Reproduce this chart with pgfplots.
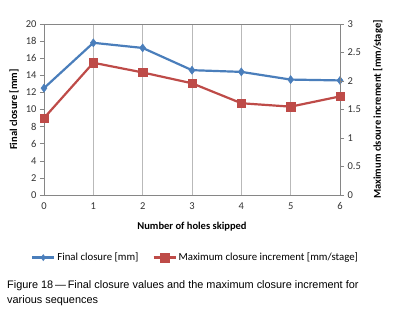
\documentclass[border=0pt]{standalone}
\usepackage{pgfplots}
\pgfplotsset{compat=1.18}
\usepackage{fontspec}
\setmainfont{Carlito}
\newfontfamily\arialfont{Liberation Sans}
\definecolor{serA}{HTML}{4A7EBB}
\definecolor{serB}{HTML}{BE4B48}
\definecolor{axgray}{HTML}{868686}
\begin{document}
\begin{tikzpicture}
\path[use as bounding box] (-44pt,-114pt) rectangle (352pt,195pt);
\pgfplotsset{
  base/.style={
    at={(0pt,0pt)}, anchor=south west, scale only axis, width=296pt, height=171pt,
    xmin=0, xmax=6, xtick={0,...,6},
    font=\fontsize{10.5}{12}\selectfont,
    /pgf/number format/assume math mode=true,
    axis line style={axgray, line width=0.6pt},
    tick style={axgray, line width=0.6pt},
    tick align=outside, major tick length=4pt,
    ticklabel style={color=black!80},
    legend image code/.code={\draw[mark repeat=2,mark phase=2,#1] plot coordinates {(0pt,0pt) (11pt,0pt) (22pt,0pt)};},
  }
}
\begin{axis}[base, ymin=0, ymax=20, ytick={0,2,...,20},
  ytick pos=left, xtick pos=bottom, xtick style={draw=none},
  xmajorgrids, major grid style={color=gray!55, line width=0.7pt},
  xlabel={\bfseries Number of holes skipped},
  ylabel={\bfseries Final closure [mm]},
  xlabel style={at={(axis description cs:0.5,0)}, yshift=-32pt, anchor=center},
  ylabel style={at={(axis description cs:-0.1014,0.5)}, anchor=center},
]
\addplot[serA, line width=2.2pt, mark=diamond*, mark size=4pt, mark options={line width=0.5pt}]
  coordinates {(0,12.5) (1,17.8) (2,17.2) (3,14.6) (4,14.4) (5,13.5) (6,13.4)};
\end{axis}
\begin{axis}[base, ymin=0, ymax=3, ytick={0,0.5,...,3},
  axis y line*=right, axis x line=none,
  ylabel={\bfseries Maximum clsoure increment [mm/stage]},
  ylabel style={at={(axis description cs:1.1284,0.5)}, anchor=center},
  legend style={at={(0.512,-0.366)}, anchor=center, draw=none, fill=none,
    legend columns=2, font=\fontsize{10.8}{12}\selectfont,
    /tikz/every even column/.append style={column sep=12pt}},
]
\addlegendimage{serA, line width=2.2pt, mark=diamond*, mark size=3pt, mark options={line width=0.5pt}}
\addlegendentry{Final closure [mm]}
\addplot[serB, line width=2.2pt, mark=square*, mark size=4.2pt, mark options={line width=0.5pt}]
  coordinates {(0,1.35) (1,2.32) (2,2.15) (3,1.96) (4,1.61) (5,1.55) (6,1.73)};
\addlegendentry{Maximum closure increment [mm/stage]}
\end{axis}
\node[anchor=north west, align=left, inner sep=0pt, font=\arialfont\fontsize{10.9}{15}\selectfont] at (-37pt,-85pt)
  {Figure 18\,—\,Final closure values and the maximum closure increment for\\various sequences};
\end{tikzpicture}
\end{document}
